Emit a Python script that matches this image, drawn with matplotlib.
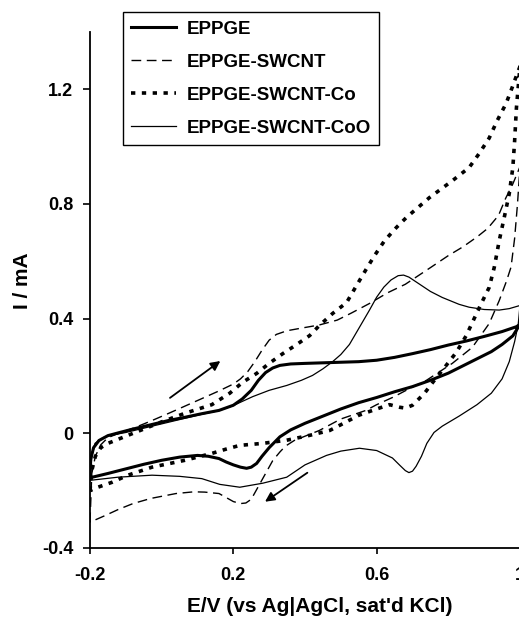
import matplotlib
matplotlib.use("Agg")
import matplotlib.pyplot as plt

plt.rcParams['font.family'] = ['Liberation Sans', 'DejaVu Sans']
plt.rcParams['font.weight'] = 'bold'

# EPPGE (trazo grueso continuo): barrido de ida y de vuelta
eppge_x = [-0.2, -0.198, -0.19, -0.175, -0.15, -0.12, -0.08, -0.03, 0.02, 0.065, 0.11, 0.16,
           0.2, 0.225, 0.25, 0.27, 0.29, 0.31, 0.33, 0.36, 0.4, 0.45, 0.5, 0.55, 0.6, 0.65,
           0.7, 0.75, 0.8, 0.85, 0.9, 0.95, 0.99, 1.0,
           0.98, 0.95, 0.92, 0.88, 0.84, 0.8, 0.75, 0.7, 0.65, 0.6, 0.55, 0.5, 0.45, 0.4,
           0.36, 0.33, 0.3, 0.28, 0.265, 0.25, 0.237, 0.22, 0.2, 0.18, 0.16, 0.13, 0.1,
           0.05, 0.0, -0.05, -0.1, -0.15, -0.2]
eppge_y = [-0.155, -0.09, -0.05, -0.025, -0.008, 0.002, 0.015, 0.03, 0.045, 0.056, 0.068, 0.08,
           0.098, 0.12, 0.15, 0.185, 0.212, 0.228, 0.237, 0.242, 0.244, 0.246, 0.248, 0.25, 0.255, 0.265,
           0.278, 0.292, 0.308, 0.322, 0.338, 0.355, 0.372, 0.38,
           0.34, 0.31, 0.285, 0.26, 0.235, 0.21, 0.185, 0.163, 0.145, 0.125, 0.107, 0.085, 0.06, 0.035,
           0.012, -0.012, -0.05, -0.08, -0.105, -0.118, -0.122, -0.118, -0.11, -0.1, -0.088, -0.08, -0.077,
           -0.083, -0.094, -0.108, -0.124, -0.14, -0.155]

# EPPGE-SWCNT (trazo fino discontinuo)
swcnt_x = [-0.2, -0.195, -0.185, -0.17, -0.15, -0.12, -0.075, -0.03, 0.02, 0.065, 0.11, 0.16,
           0.2, 0.22, 0.24, 0.26, 0.28, 0.3, 0.32, 0.35, 0.39, 0.44, 0.49, 0.53, 0.58, 0.63,
           0.68, 0.75, 0.8, 0.84, 0.88, 0.91, 0.94, 0.96, 0.98, 1.0,
           0.993, 0.985, 0.975, 0.962, 0.942, 0.914, 0.867, 0.811, 0.739, 0.69, 0.644, 0.6, 0.57,
           0.5, 0.44, 0.4, 0.37, 0.345, 0.33, 0.31, 0.29, 0.27, 0.25, 0.235, 0.22, 0.2, 0.16,
           0.12, 0.09, 0.04, -0.03, -0.08, -0.12, -0.16, -0.2]
swcnt_y = [-0.31, -0.14, -0.08, -0.04, -0.015, 0.0, 0.02, 0.043, 0.07, 0.095, 0.12, 0.148,
           0.172, 0.19, 0.215, 0.25, 0.29, 0.325, 0.345, 0.358, 0.367, 0.378, 0.395, 0.42, 0.453, 0.49,
           0.52, 0.578, 0.62, 0.65, 0.685, 0.715, 0.76, 0.82, 0.87, 0.93,
           0.8, 0.68, 0.58, 0.53, 0.463, 0.383, 0.3, 0.244, 0.185, 0.155, 0.125, 0.1, 0.08,
           0.05, 0.01, -0.01, -0.025, -0.045, -0.065, -0.095, -0.14, -0.185, -0.23, -0.243, -0.245, -0.238, -0.21,
           -0.205, -0.204, -0.21, -0.227, -0.245, -0.265, -0.288, -0.31]

# EPPGE-SWCNT-Co (trazo grueso punteado)
co_x = [-0.2, -0.195, -0.185, -0.17, -0.15, -0.13, -0.09, -0.05, 0.0, 0.065, 0.14, 0.19,
        0.226, 0.265, 0.3, 0.338, 0.377, 0.413, 0.44, 0.477, 0.516, 0.544, 0.572, 0.594, 0.622,
        0.655, 0.683, 0.747, 0.811, 0.858, 0.886, 0.914, 0.936, 0.961, 0.978, 0.992, 1.0,
        0.99, 0.985, 0.98, 0.97, 0.956, 0.942, 0.928, 0.914, 0.892, 0.872, 0.85, 0.822, 0.794,
        0.761, 0.733, 0.7, 0.68, 0.664, 0.636, 0.6, 0.55, 0.5, 0.469, 0.413, 0.349, 0.282,
        0.218, 0.18, 0.14, 0.065, -0.027, -0.094, -0.139, -0.178, -0.2]
co_y = [-0.2, -0.13, -0.08, -0.05, -0.035, -0.025, -0.005, 0.015, 0.04, 0.07, 0.1, 0.14,
        0.178, 0.209, 0.244, 0.278, 0.31, 0.341, 0.376, 0.418, 0.456, 0.516, 0.575, 0.62, 0.672,
        0.718, 0.753, 0.822, 0.881, 0.927, 0.976, 1.03, 1.09, 1.15, 1.206, 1.254, 1.28,
        1.135, 1.02, 0.927, 0.836, 0.753, 0.672, 0.578, 0.509, 0.453, 0.4, 0.341, 0.282, 0.237,
        0.185, 0.139, 0.098, 0.088, 0.091, 0.1, 0.085, 0.063, 0.03, 0.01, -0.007, -0.024, -0.035,
        -0.042, -0.055, -0.07, -0.094, -0.118, -0.146, -0.171, -0.188, -0.2]

# EPPGE-SWCNT-CoO (trazo fino continuo)
coo_x = [-0.2, -0.195, -0.186, -0.17, -0.158, -0.13, -0.1, -0.05, 0.0, 0.05, 0.1, 0.162,
         0.2, 0.254, 0.3, 0.349, 0.39, 0.421, 0.45, 0.477, 0.5, 0.524, 0.552, 0.58, 0.6,
         0.62, 0.64, 0.66, 0.675, 0.69, 0.72, 0.75, 0.783, 0.83, 0.858, 0.9, 0.942, 0.97, 1.0,
         0.995, 0.985, 0.97, 0.95, 0.92, 0.88, 0.83, 0.783, 0.76, 0.74, 0.725, 0.71, 0.7, 0.69,
         0.68, 0.665, 0.644, 0.6, 0.552, 0.5, 0.46, 0.4, 0.349, 0.282, 0.218, 0.162, 0.112,
         0.05, -0.027, -0.122, -0.2]
coo_y = [-0.164, -0.08, -0.035, -0.02, -0.012, -0.004, 0.003, 0.018, 0.033, 0.048, 0.063, 0.08,
         0.097, 0.128, 0.15, 0.167, 0.185, 0.202, 0.225, 0.25, 0.275, 0.31, 0.37, 0.43, 0.475,
         0.51, 0.535, 0.55, 0.552, 0.545, 0.52, 0.495, 0.474, 0.45, 0.44, 0.432, 0.43, 0.435, 0.446,
         0.38, 0.32, 0.25, 0.19, 0.14, 0.1, 0.06, 0.025, 0.003, -0.035, -0.08, -0.115, -0.132, -0.137,
         -0.13, -0.112, -0.086, -0.06, -0.052, -0.062, -0.077, -0.11, -0.153, -0.174, -0.188, -0.178, -0.158,
         -0.15, -0.146, -0.153, -0.164]

labels = ['EPPGE', 'EPPGE-SWCNT', 'EPPGE-SWCNT-Co', 'EPPGE-SWCNT-CoO']

# flechas que indican el sentido del barrido (inicio, punta)
arrow_fwd = [(0.017, 0.118), (0.17, 0.258)]
arrow_rev = [(0.413, -0.132), (0.282, -0.244)]

xticks = [-0.2, 0.2, 0.6, 1.0]
xticklabels = ['-0.2', '0.2', '0.6', '1']
yticks = [-0.4, 0.0, 0.4, 0.8, 1.2]
yticklabels = ['-0.4', '0', '0.4', '0.8', '1.2']

fig = plt.figure(figsize=(5.19, 6.19), dpi=100)
ax = fig.add_axes([90 / 519, 71 / 619, 430 / 519, 516 / 619])

ax.plot(eppge_x, eppge_y, color='black', lw=2.2, label=labels[0])
ax.plot(swcnt_x, swcnt_y, color='black', lw=1.0, dashes=(7, 4), label=labels[1])
ax.plot(co_x, co_y, color='black', lw=2.6, dashes=(1.2, 1.8), label=labels[2])
ax.plot(coo_x, coo_y, color='black', lw=0.9, label=labels[3])

for a in (arrow_fwd, arrow_rev):
    ax.annotate('', xy=a[1], xytext=a[0],
                arrowprops=dict(arrowstyle='-|>', color='black', lw=1.3, mutation_scale=14))

ax.set_xlim(-0.2, 1.0)
ax.set_ylim(-0.4, 1.4)
ax.set_xticks(xticks)
ax.set_xticklabels(xticklabels)
ax.set_yticks(yticks)
ax.set_yticklabels(yticklabels)
ax.spines['top'].set_visible(False)
ax.spines['right'].set_visible(False)
ax.spines['left'].set_linewidth(1.3)
ax.spines['bottom'].set_linewidth(1.3)
ax.tick_params(axis='x', direction='out', length=4, width=1.2, pad=10, labelsize=13)
ax.tick_params(axis='y', direction='out', length=5, width=1.2, pad=7, labelsize=13)

ax.set_xlabel("E/V (vs Ag|AgCl, sat'd KCl)", fontsize=15, fontweight='bold')
ax.set_ylabel("I / mA", fontsize=15, fontweight='bold')
ax.xaxis.set_label_coords(0.535, -0.095)
ax.yaxis.set_label_coords(-0.135, 0.519)

leg = ax.legend(loc='upper left', bbox_to_anchor=(123 / 519, 1 - 12 / 619),
                bbox_transform=fig.transFigure, borderaxespad=0, fancybox=False,
                edgecolor='black', framealpha=1, handlelength=2.35, handletextpad=0.6,
                labelspacing=0.85, borderpad=0.45, prop={'size': 13.5, 'weight': 'bold'})
leg.get_frame().set_linewidth(1.0)

plt.savefig('out.png', dpi=100)
